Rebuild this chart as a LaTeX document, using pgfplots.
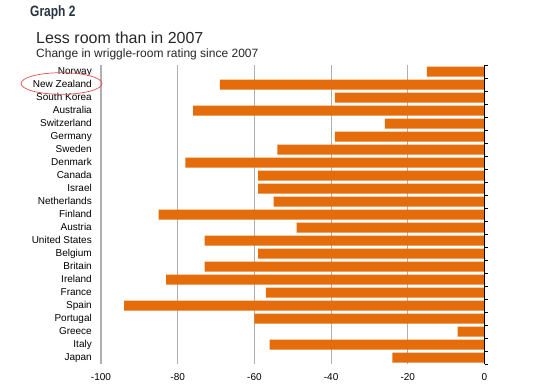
\documentclass[border=0pt]{standalone}
\usepackage{pgfplots}
\pgfplotsset{compat=1.18}
\usepackage{fontspec}
\setmainfont{Liberation Sans}
\newfontfamily\condbold[FakeStretch=0.8]{Liberation Sans}
\definecolor{barorange}{RGB}{228,108,10}
\definecolor{gridgray}{RGB}{175,175,175}
\definecolor{navy}{RGB}{40,52,66}
\definecolor{ellred}{RGB}{225,80,80}
\begin{document}
\begin{tikzpicture}
\useasboundingbox (0pt,0pt) rectangle (550pt,389pt);
\begin{axis}[
  at={(101pt,25pt)}, anchor=south west,
  scale only axis, width=383.5pt, height=299pt,
  xmin=-100, xmax=0, ymin=-0.5, ymax=22.5,
  y dir=reverse,
  xbar, bar width=10pt,
  axis line style={draw=none},
  xtick={-100,-80,-60,-40,-20,0},
  xticklabels={-100,-80,-60,-40,-20,0},
  xmajorgrids, grid style={gridgray, line width=1.2pt},
  major tick length=0pt,
  ytick={0,...,22},
  yticklabels={Norway,New Zealand,South Korea,Australia,Switzerland,Germany,Sweden,Denmark,Canada,Israel,Netherlands,Finland,Austria,United States,Belgium,Britain,Ireland,France,Spain,Portugal,Greece,Italy,Japan},
  yticklabel style={font=\fontsize{10pt}{10pt}\selectfont, anchor=east, inner sep=0pt, text height=7.2pt, text depth=2pt, xshift=-9pt},
  xticklabel style={font=\fontsize{10pt}{10pt}\selectfont, anchor=north, inner sep=0pt, yshift=-9pt},
  extra y ticks={-0.5,0.5,...,22.5},
  extra y tick labels={},
  extra y tick style={ytick pos=right, major tick length=3pt, tick align=outside, tick style={black, line width=0.6pt}, grid=none},
  clip=false,
]
\addplot[fill=barorange, draw=none] coordinates {
(-15,0) (-69,1) (-39,2) (-76,3) (-26,4) (-39,5) (-54,6) (-78,7)
(-59,8) (-59,9) (-55,10) (-85,11) (-49,12) (-73,13) (-59,14) (-73,15)
(-83,16) (-57,17) (-94,18) (-60,19) (-7,20) (-56,21) (-24,22)};
\draw[black, line width=0.8pt] (axis cs:0,-0.5) -- (axis cs:0,22.5);
\end{axis}
\node[anchor=base west, inner sep=0pt, text=navy] at (30pt,372pt) {\condbold\bfseries\fontsize{15pt}{15pt}\selectfont Graph 2};
\node[anchor=base west, inner sep=0pt, text=black!85] at (36pt,345pt) {\fontsize{16pt}{16pt}\selectfont Less room than in 2007};
\node[anchor=base west, inner sep=0pt, text=black!85] at (36pt,331pt) {\fontsize{12pt}{12pt}\selectfont Change in wriggle-room rating since 2007};
\draw[ellred, line width=0.7pt] (61.5pt,305.5pt) ellipse (40.5pt and 10.8pt);
\end{tikzpicture}
\end{document}
